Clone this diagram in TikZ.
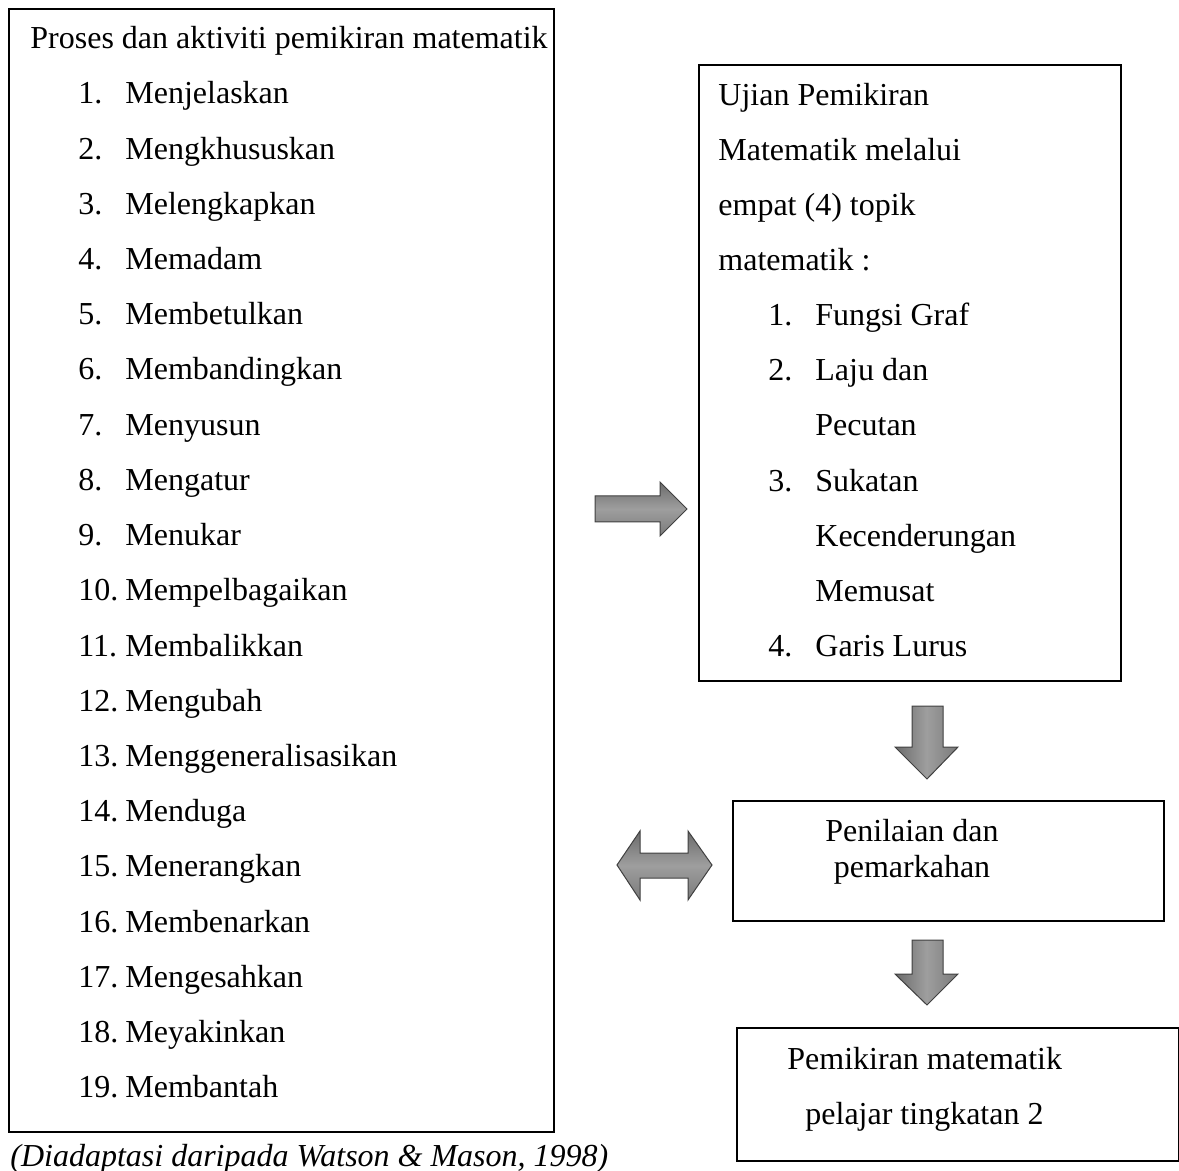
\documentclass[tikz,border=0pt]{standalone}
\usepackage{fontspec}
\setmainfont{Liberation Serif}
\usetikzlibrary{positioning}

\begin{document}
\begin{tikzpicture}[x=0.5pt,y=-0.5pt,
  kotak/.style={rectangle,draw=black,line width=0.9pt,anchor=north west,inner sep=0pt},
  teks/.style={anchor=base west,inner sep=0pt,font=\fontsize{16}{20}\selectfont},
  tengah/.style={anchor=base,inner sep=0pt,font=\fontsize{16}{20}\selectfont},
  panahmendatar/.style={draw=black!75,line width=0.5pt,top color=black!58,bottom color=black!52,middle color=black!38},
  panahmenegak/.style={draw=black!75,line width=0.5pt,left color=black!58,right color=black!52,middle color=black!38}]
  \useasboundingbox (0,0) rectangle (1179,1171);
  % kotak-kotak
  \node[kotak,minimum width=272.5pt,minimum height=561.5pt] (proses) at (8,8) {};
  \node[kotak,minimum width=211pt,minimum height=308pt] (ujian) at (698,64) {};
  \node[kotak,minimum width=215.5pt,minimum height=60pt] (nilai) at (732,800) {};
  \node[kotak,minimum width=221pt,minimum height=66.5pt] (fikir) at (736,1027) {};
  % senarai proses
  \node[teks] (tajuk) at (30,49) {Proses dan aktiviti pemikiran matematik};
  \foreach \kata [count=\i] in {Menjelaskan,Mengkhususkan,Melengkapkan,Memadam,Membetulkan,
    Membandingkan,Menyusun,Mengatur,Menukar,Mempelbagaikan,Membalikkan,Mengubah,
    Menggeneralisasikan,Menduga,Menerangkan,Membenarkan,Mengesahkan,Meyakinkan,Membantah}{
    \node[teks] (no\i) at (78,{104+(\i-1)*55.2}) {\i.};
    \node[teks] (item\i) at (125,{104+(\i-1)*55.2}) {\kata};
  }
  % ujian pemikiran
  \node[teks] (uji1) at (718,106) {Ujian Pemikiran};
  \node[teks] (uji2) at (718,161) {Matematik melalui};
  \node[teks] (uji3) at (718,216) {empat (4) topik};
  \node[teks] (uji4) at (718,271) {matematik :};
  \node[teks] (tno1) at (768,326) {1.};
  \node[teks] (topik1) at (815,326) {Fungsi Graf};
  \node[teks] (tno2) at (768,381) {2.};
  \node[teks] (topik2) at (815,381) {Laju dan};
  \node[teks] (topik2b) at (815,436) {Pecutan};
  \node[teks] (tno3) at (768,492) {3.};
  \node[teks] (topik3) at (815,492) {Sukatan};
  \node[teks] (topik3b) at (815,547) {Kecenderungan};
  \node[teks] (topik3c) at (815,602) {Memusat};
  \node[teks] (tno4) at (768,657) {4.};
  \node[teks] (topik4) at (815,657) {Garis Lurus};
  % penilaian
  \node[tengah] (nilai1) at (912,841) {Penilaian dan};
  \node[tengah] (nilai2) at (912,877) {pemarkahan};
  % pemikiran pelajar
  \node[teks] (fikir1) at (787,1069) {Pemikiran matematik};
  \node[teks] (fikir2) at (805,1124) {pelajar tingkatan 2};
  % sumber
  \node[teks,font=\fontsize{16}{20}\selectfont\itshape] (sumber) at (10,1166) {(Diadaptasi daripada Watson \& Mason, 1998)};
  % anak panah
  \draw[panahmendatar] (595,496) -- (660,496) -- (660,482) -- (687,509) -- (660,536) -- (660,522) -- (595,522) -- cycle;
  \draw[panahmenegak] (912,706) -- (943,706) -- (943,747) -- (958,747) -- (927,779) -- (895,747) -- (912,747) -- cycle;
  \draw[panahmenegak] (912,940) -- (943,940) -- (943,974) -- (958,974) -- (927,1005) -- (895,974) -- (912,974) -- cycle;
  \draw[panahmendatar] (617,865) -- (640,831) -- (640,853) -- (688,853) -- (688,831) -- (712,865) -- (688,900) -- (688,878) -- (640,878) -- (640,900) -- cycle;
\end{tikzpicture}
\end{document}
